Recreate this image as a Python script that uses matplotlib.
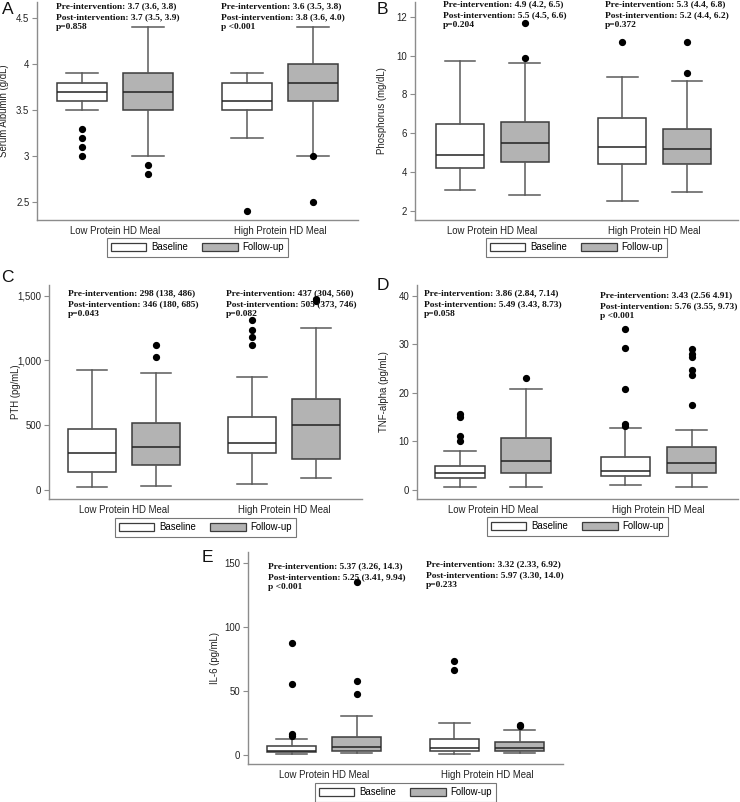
import matplotlib
matplotlib.use("Agg")
import matplotlib.pyplot as plt
from matplotlib.patches import Patch
from matplotlib.ticker import FuncFormatter
import matplotlib.transforms as mtransforms

W, H = 740, 802
DPI = 100

# ---------------- data ----------------
groups = ["Low Protein HD Meal", "High Protein HD Meal"]
series = ["Baseline", "Follow-up"]
# order within each panel: Low-Baseline, Low-Follow-up, High-Baseline, High-Follow-up

# Panel A: Serum Albumin
alb_med = [3.7, 3.7, 3.6, 3.8]
alb_q1 = [3.6, 3.5, 3.5, 3.6]
alb_q3 = [3.8, 3.9, 3.8, 4.0]
alb_lo = [3.5, 3.0, 3.2, 3.0]
alb_hi = [3.9, 4.4, 3.9, 4.4]
alb_fliers = [[3.3, 3.2, 3.1, 3.0], [2.9, 2.8], [2.4], [3.0, 2.5]]
alb_text = ["Pre-intervention: 3.7 (3.6, 3.8)\nPost-intervention: 3.7 (3.5, 3.9)\np=0.858",
            "Pre-intervention: 3.6 (3.5, 3.8)\nPost-intervention: 3.8 (3.6, 4.0)\np <0.001"]
alb_ticks = [2.5, 3, 3.5, 4, 4.5]

# Panel B: Phosphorus
pho_med = [4.9, 5.5, 5.3, 5.2]
pho_q1 = [4.2, 4.5, 4.4, 4.4]
pho_q3 = [6.5, 6.6, 6.8, 6.2]
pho_lo = [3.1, 2.8, 2.5, 3.0]
pho_hi = [9.7, 9.6, 8.9, 8.7]
pho_fliers = [[], [9.9, 11.7], [10.7], [10.7, 9.1]]
pho_text = ["Pre-intervention: 4.9 (4.2, 6.5)\nPost-intervention: 5.5 (4.5, 6.6)\np=0.204",
            "Pre-intervention: 5.3 (4.4, 6.8)\nPost-intervention: 5.2 (4.4, 6.2)\np=0.372"]
pho_ticks = [2, 4, 6, 8, 10, 12]

# Panel C: PTH
pth_med = [280, 329, 358, 504]
pth_q1 = [136, 190, 283, 239]
pth_q3 = [466, 515, 561, 705]
pth_lo = [18, 31, 46, 93]
pth_hi = [924, 906, 870, 1253]
pth_fliers = [[], [1122, 1024], [1312, 1232, 1183, 1122], [1475, 1460]]
pth_text = ["Pre-intervention: 298 (138, 486)\nPost-intervention: 346 (180, 685)\np=0.043",
            "Pre-intervention: 437 (304, 560)\nPost-intervention: 505 (373, 746)\np=0.082"]
pth_ticks = [0, 500, 1000, 1500]

# Panel D: TNF-alpha
tnf_med = [3.43, 5.9, 3.9, 5.56]
tnf_q1 = [2.54, 3.57, 2.8, 3.43]
tnf_q3 = [4.94, 10.7, 6.86, 8.92]
tnf_lo = [0.55, 0.55, 0.96, 0.55]
tnf_hi = [8.09, 20.7, 12.76, 12.4]
tnf_fliers = [[15.6, 15.1, 11.1, 10.1], [23.1], [33.1, 29.3, 20.7, 13.6, 13.2],
              [29.0, 27.9, 27.4, 24.7, 23.7, 17.4]]
tnf_text = ["Pre-intervention: 3.86 (2.84, 7.14)\nPost-intervention: 5.49 (3.43, 8.73)\np=0.058",
            "Pre-intervention: 3.43 (2.56 4.91)\nPost-intervention: 5.76 (3.55, 9.73)\np <0.001"]
tnf_ticks = [0, 10, 20, 30, 40]

# Panel E: IL-6
il6_med = [3.1, 6.0, 4.9, 5.2]
il6_q1 = [2.3, 2.9, 2.9, 2.9]
il6_q3 = [6.8, 13.8, 12.2, 9.6]
il6_lo = [0.8, 1.0, 0.5, 1.0]
il6_hi = [12.5, 29.9, 24.7, 19.2]
il6_fliers = [[87.6, 55.6, 15.9, 14.3], [135.4, 57.7, 47.6], [73.0, 66.3], [22.9, 22.1]]
il6_text = ["Pre-intervention: 5.37 (3.26, 14.3)\nPost-intervention: 5.25 (3.41, 9.94)\np <0.001",
            "Pre-intervention: 3.32 (2.33, 6.92)\nPost-intervention: 5.97 (3.30, 14.0)\np=0.233"]
il6_ticks = [0, 50, 100, 150]

# ---------------- style ----------------
SANS = ["Liberation Sans", "DejaVu Sans"]
SERIF = ["Liberation Serif", "DejaVu Serif"]
plt.rcParams["font.family"] = SANS
FS = 6.9
TFS = 6.75
EDGE = "#3c3c3c"
WHISK = "#5a5a5a"
SPINE = "#8c8c8c"
FILLS = ["white", "#b3b3b3"]

fig = plt.figure(figsize=(W / DPI, H / DPI), dpi=DPI)


def make_axes(left, right, top, bottom):
    return fig.add_axes([left / W, 1 - bottom / H, (right - left) / W, (bottom - top) / H])


def panel(rect, ylim, xlim, med, q1, q3, lo, hi, fliers, texts, ticks, ylabel,
          letter, letter_xy, text_x, text_top_px, legend_top_px, yfmt=None):
    left, right, top, bottom = rect
    ax = make_axes(left, right, top, bottom)
    positions = [-0.2, 0.2, 0.8, 1.2]
    stats = []
    for i in range(4):
        stats.append(dict(med=med[i], q1=q1[i], q3=q3[i], whislo=lo[i], whishi=hi[i],
                          fliers=fliers[i]))
    for i in range(4):
        ax.bxp([stats[i]], positions=[positions[i]], widths=0.3, capwidths=0.19,
               patch_artist=True, manage_ticks=False,
               boxprops=dict(facecolor=FILLS[i % 2], edgecolor=EDGE, linewidth=1.1),
               medianprops=dict(color="#222222", linewidth=1.1),
               whiskerprops=dict(color=WHISK, linewidth=1.1),
               capprops=dict(color=WHISK, linewidth=1.1),
               flierprops=dict(marker="o", markerfacecolor="black", markeredgecolor="black",
                               markersize=4.2))
    ax.set_xlim(*xlim)
    ax.set_ylim(*ylim)
    ax.set_xticks([0, 1])
    ax.set_xticklabels(groups, fontsize=FS, color="#222222")
    ax.tick_params(axis="x", length=0, pad=4)
    ax.set_yticks(ticks)
    if yfmt is None:
        ax.yaxis.set_major_formatter(FuncFormatter(lambda v, p: "%g" % v))
    else:
        ax.yaxis.set_major_formatter(FuncFormatter(yfmt))
    ax.tick_params(axis="y", labelsize=FS, length=3.5, width=0.8, color=SPINE,
                   labelcolor="#222222", pad=2)
    for s in ["top", "right"]:
        ax.spines[s].set_visible(False)
    for s in ["left", "bottom"]:
        ax.spines[s].set_color(SPINE)
        ax.spines[s].set_linewidth(1.0)
    ax.set_ylabel(ylabel, fontsize=FS, color="#222222")
    ax.yaxis.set_label_coords(-28 / (right - left), 0.5)
    # annotations
    trans = mtransforms.blended_transform_factory(ax.transData, ax.transAxes)
    for g in range(2):
        ty = 1 - (text_top_px[g] - top) / (bottom - top)
        ax.text(g + text_x[g], ty, texts[g], transform=trans, ha="left", va="top",
                fontsize=TFS, fontweight="bold", family=SERIF, linespacing=1.45,
                color="#111111")
    # legend
    handles = [Patch(facecolor=FILLS[0], edgecolor=EDGE, linewidth=0.9),
               Patch(facecolor=FILLS[1], edgecolor=EDGE, linewidth=0.9)]
    ly = 1 - (legend_top_px - top) / (bottom - top)
    leg = ax.legend(handles, series, loc="upper center", bbox_to_anchor=(0.5, ly), ncol=2,
                    fontsize=FS, frameon=True, fancybox=False, handlelength=3.7,
                    handleheight=0.9, handletextpad=0.5, columnspacing=1.5,
                    borderpad=0.45, borderaxespad=0)
    leg.get_frame().set_edgecolor("#555555")
    leg.get_frame().set_linewidth(0.8)
    fig.text(letter_xy[0] / W, 1 - letter_xy[1] / H, letter, fontsize=12.5, ha="center",
             va="center", color="#111111")
    return ax


comma = lambda v, p: "{:,.0f}".format(v)

panel((37, 358, 2, 220), (2.304, 4.677), (-0.473, 1.473), alb_med, alb_q1, alb_q3, alb_lo,
      alb_hi, alb_fliers, alb_text, alb_ticks, "Serum Albumin (g/dL)", "A", (8, 9),
      (-0.358, -0.358), (2, 2), 238)
panel((415, 738, 2, 220), (1.537, 12.76), (-0.478, 1.515), pho_med, pho_q1, pho_q3, pho_lo,
      pho_hi, pho_fliers, pho_text, pho_ticks, "Phosphorus (mg/dL)", "B", (382, 10),
      (-0.307, -0.307), (0, 0), 238)
panel((49, 362, 285, 499), (-72, 1583), (-0.47, 1.49), pth_med, pth_q1, pth_q3, pth_lo,
      pth_hi, pth_fliers, pth_text, pth_ticks, "PTH (pg/mL)", "C", (7, 278),
      (-0.349, -0.362), (289, 289), 518, yfmt=comma)
panel((417, 738, 285, 499), (-1.85, 42.2), (-0.46, 1.48), tnf_med, tnf_q1, tnf_q3, tnf_lo,
      tnf_hi, tnf_fliers, tnf_text, tnf_ticks, "TNF-alpha (pg/mL)", "D", (383, 285),
      (-0.419, -0.353), (289, 291), 517)
panel((248, 563, 552, 764), (-7.3, 158.6), (-0.469, 1.467), il6_med, il6_q1, il6_q3, il6_lo,
      il6_hi, il6_fliers, il6_text, il6_ticks, "IL-6 (pg/mL)", "E", (207, 558),
      (-0.348, -0.377), (562, 560), 783)

fig.savefig("out.png", dpi=DPI, facecolor="white")
